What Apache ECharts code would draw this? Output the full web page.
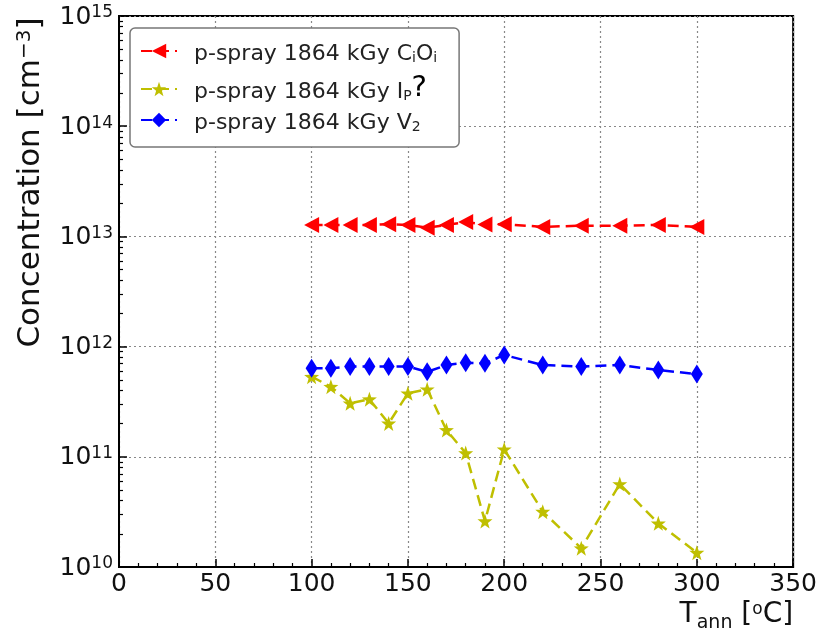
<!DOCTYPE html>
<html>
<head>
<meta charset="utf-8">
<script src="https://cdn.jsdelivr.net/npm/echarts@6/dist/echarts.min.js"></script>
<style>html,body{margin:0;padding:0;background:#fff}#c{width:820px;height:635px}</style>
</head>
<body>
<div id="c"></div>
<script>
const tempC = [100, 110, 120, 130, 140, 150, 160, 170, 180, 190, 200, 220, 240, 260, 280, 300];
const ciOi = [1.27e13, 1.27e13, 1.27e13, 1.27e13, 1.29e13, 1.27e13, 1.2e13, 1.27e13, 1.35e13, 1.28e13, 1.29e13, 1.22e13, 1.25e13, 1.25e13, 1.27e13, 1.22e13];
const ipDef = [5.33e11, 4.33e11, 3.06e11, 3.33e11, 2.01e11, 3.77e11, 4.1e11, 1.75e11, 1.08e11, 2.61e10, 1.17e11, 3.18e10, 1.48e10, 5.66e10, 2.49e10, 1.35e10];
const v2 = [6.35e11, 6.35e11, 6.6e11, 6.6e11, 6.6e11, 6.6e11, 5.9e11, 6.8e11, 7.14e11, 7.05e11, 8.4e11, 6.8e11, 6.6e11, 6.8e11, 6.13e11, 5.64e11];
const seriesNames = ['p-spray 1864 kGy CiOi', 'p-spray 1864 kGy IP?', 'p-spray 1864 kGy V2'];
const yDecades = [10, 11, 12, 13, 14];

// minor tick positions of the log axis (k * 10^e, k = 2..9)
const minorY = [];
yDecades.forEach(function (e) { for (let k = 2; k <= 9; k++) minorY.push(k * Math.pow(10, e)); });

const FONT = 'DejaVu Sans';
const star = 'path://M0,-10 L2.35,-3.24 L9.51,-3.09 L3.8,1.24 L5.88,8.09 L0,4 L-5.88,8.09 L-3.8,1.24 L-9.51,-3.09 L-2.35,-3.24 Z';
const dash = [11, 6];
const gridBox = { left: 119, top: 16, right: 25, bottom: 68 };

function pairs(ys) { return tempC.map(function (x, i) { return [x, ys[i]]; }); }

const chart = echarts.init(document.getElementById('c'), null, { renderer: 'canvas' });
const legendRich = {
  p: { fontFamily: FONT, fontSize: 22, color: '#222', lineHeight: 28, verticalAlign: 'bottom', padding: [0, 0, 0, 12] },
  a: { fontFamily: FONT, fontSize: 22, color: '#222', lineHeight: 28, verticalAlign: 'bottom' },
  s: { fontFamily: FONT, fontSize: 14, color: '#222', lineHeight: 18, verticalAlign: 'bottom' },
  q: { fontFamily: FONT, fontSize: 29, color: '#000', lineHeight: 28, verticalAlign: 'bottom' }
};
chart.setOption({
  animation: false,
  backgroundColor: '#fff',
  grid: [
    Object.assign({ show: true, borderColor: '#000', borderWidth: 2, backgroundColor: 'transparent' }, gridBox),
    Object.assign({ show: false }, gridBox)
  ],
  legend: {
    orient: 'vertical', left: 130, top: 28,
    padding: [15, 22, 13, 10], itemGap: 9, itemWidth: 36, itemHeight: 18,
    backgroundColor: '#fff', borderColor: '#777', borderWidth: 1.5, borderRadius: 5,
    data: seriesNames,
    formatter: function (n) {
      if (n === seriesNames[0]) return '{p|p-spray 1864 kGy C}{s|i}{a|O}{s|i}';
      if (n === seriesNames[1]) return '{p|p-spray 1864 kGy I}{s|P}{q|?}';
      return '{p|p-spray 1864 kGy V}{s|2}';
    },
    textStyle: { rich: legendRich }
  },
  xAxis: [{
    type: 'value', min: 0, max: 350, interval: 50, gridIndex: 0,
    name: '{t|T}{u|ann}{b| [}{o|o}{b|C]}',
    nameLocation: 'end', nameGap: 0,
    nameTextStyle: {
      align: 'right', verticalAlign: 'top', padding: [34, 0, 0, 0],
      rich: {
        t: { fontFamily: FONT, fontSize: 28, color: '#111', lineHeight: 32, verticalAlign: 'top' },
        u: { fontFamily: FONT, fontSize: 19, color: '#111', lineHeight: 22, verticalAlign: 'bottom' },
        b: { fontFamily: FONT, fontSize: 28, color: '#111', lineHeight: 32, verticalAlign: 'top' },
        o: { fontFamily: FONT, fontSize: 17, color: '#111', lineHeight: 20, verticalAlign: 'top' }
      }
    },
    axisLine: { show: true, lineStyle: { color: '#000', width: 2 } },
    axisTick: { show: true, inside: true, length: 8, lineStyle: { color: '#000', width: 1.5 } },
    minorTick: { show: true, splitNumber: 5, length: 4, lineStyle: { color: '#000', width: 1.2 } },
    axisLabel: { fontFamily: FONT, fontSize: 25, color: '#111', margin: 5 },
    splitLine: { show: true, lineStyle: { color: '#888', type: [2, 3], width: 1.2 } }
  }, {
    type: 'value', min: 0, max: 350, gridIndex: 1, show: false
  }],
  yAxis: [{
    type: 'log', min: 1e10, max: 1e15, logBase: 10, gridIndex: 0,
    name: '{a|Concentration [cm}{s|−3}{a|]}',
    nameLocation: 'middle', nameGap: 68,
    nameTextStyle: {
      padding: [0, 0, 0, 218],
      rich: {
        a: { fontFamily: FONT, fontSize: 31, color: '#111', lineHeight: 36, verticalAlign: 'top' },
        s: { fontFamily: FONT, fontSize: 20, color: '#111', lineHeight: 22, verticalAlign: 'top' }
      }
    },
    axisLine: { show: true, lineStyle: { color: '#000', width: 2 } },
    axisTick: { show: true, inside: true, length: 8, lineStyle: { color: '#000', width: 1.5 } },
    axisLabel: {
      margin: 6, padding: [7, 0, 0, 0],
      formatter: function (v) { return '{b|10}{s|' + Math.round(Math.log10(v)) + '}'; },
      rich: {
        b: { fontFamily: FONT, fontSize: 25, color: '#111', lineHeight: 30, verticalAlign: 'top' },
        s: { fontFamily: FONT, fontSize: 17, color: '#111', lineHeight: 18, verticalAlign: 'top' }
      }
    },
    splitLine: { show: true, lineStyle: { color: '#888', type: [2, 3], width: 1.2 } }
  }, {
    type: 'log', min: 1e10, max: 1e15, logBase: 10, gridIndex: 1, position: 'left',
    axisLine: { show: false },
    axisTick: { show: true, inside: true, length: 4, customValues: minorY, lineStyle: { color: '#000', width: 1.2 } },
    axisLabel: { show: false },
    splitLine: { show: false }
  }],
  series: [{
    name: seriesNames[0], type: 'line', data: pairs(ciOi),
    symbol: 'triangle', symbolSize: [16, 15], symbolRotate: 90,
    color: '#ff0000', itemStyle: { color: '#ff0000' },
    lineStyle: { color: '#ff0000', width: 2.5, type: dash }, z: 4
  }, {
    name: seriesNames[1], type: 'line', data: pairs(ipDef),
    symbol: star, symbolSize: 15,
    color: '#bfbf00', itemStyle: { color: '#bfbf00' },
    lineStyle: { color: '#bfbf00', width: 2.5, type: dash }, z: 3
  }, {
    name: seriesNames[2], type: 'line', data: pairs(v2),
    symbol: 'diamond', symbolSize: [12, 19],
    color: '#0000ff', itemStyle: { color: '#0000ff' },
    lineStyle: { color: '#0000ff', width: 2.5, type: dash }, z: 5
  }]
});
</script>
</body>
</html>
